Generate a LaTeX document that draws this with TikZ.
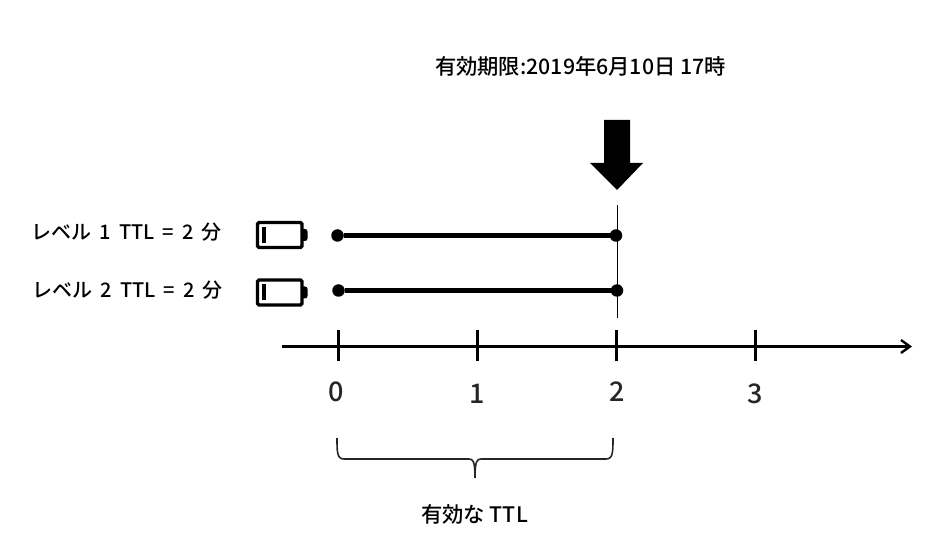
\documentclass[tikz,border=0pt]{standalone}
\usepackage{fontspec}
\setmainfont[UprightFont=* Medium]{Noto Sans CJK JP}
\usetikzlibrary{arrows.meta}
\tikzset{
  lbl/.style={inner sep=0pt,font=\fontsize{21.3}{23}\selectfont,text=black},
  lvl/.style={lbl,anchor=west,font=\fontsize{20}{22}\selectfont},
  num/.style={inner sep=0pt,font=\fontsize{27}{30}\selectfont,text=black!85},
  dot/.style={circle,fill=black,inner sep=0pt,minimum size=12.5pt},
  ttlline/.style={line width=4.2pt},
  axisline/.style={line width=3pt},
  tick/.style={line width=3pt},
  battbody/.style={draw=black,line width=3.4pt,rounded corners=1.5pt},
}
\begin{document}
\begin{tikzpicture}[x=1pt,y=-1pt]
\useasboundingbox (0,0) rectangle (943,537);
\node[lbl] (title) at (580.5,66) {有効期限:2019年6月10日 17時};
% big arrow
\fill[black] (604,120) -- (630,120) -- (630,163) -- (643,163) -- (617,190) -- (590,163) -- (604,163) -- cycle;
\coordinate (vtop) at (617,205);
\coordinate (vbot) at (617,318);
\draw[line width=0.8pt] (vtop) -- (vbot);
% levels
\node[lvl] (l1) at (31.5,232) {レベル\hspace{8pt}1\hspace{8pt}TTL\hspace{8pt}=\hspace{8pt}2\hspace{8pt}分};
\node[lvl] (l2) at (32.5,290.5) {レベル\hspace{8pt}2\hspace{8pt}TTL\hspace{8pt}=\hspace{8pt}2\hspace{8pt}分};
% batteries
\foreach \y/\n in {235/a,292.5/b}{
  \draw[battbody] (257.5,\y-12.5) rectangle (302,\y+12.5);
  \fill[black] (303,\y-6) -- (305,\y-6) arc (-90:0:2.5) -- (307.5,\y+3.5) arc (0:90:2.5) -- (303,\y+6) -- cycle;
  \fill[black] (261.5,\y-8) rectangle (266,\y+8);
}
% TTL lines
\node[dot] (a1) at (337.5,235.5) {};
\node[dot] (b1) at (616,235.5) {};
\node[dot] (a2) at (338.5,290.5) {};
\node[dot] (b2) at (617,290.5) {};
\draw[ttlline] (a1) -- (b1);
\draw[ttlline] (a2) -- (b2);
% axis
\coordinate (axs) at (282,346.5);
\coordinate (axe) at (912,346.5);
\draw[axisline,-{Straight Barb[length=9pt,width=13pt,line width=2.4pt]}] (axs) -- (axe);
\foreach \x/\n/\ty/\tx in {338.5/0/392/336,477.5/1/394/477.5,616.5/2/392/617,755.5/3/394/755}{
  \draw[tick] (\x,330) -- (\x,361);
  \node[num] (n\n) at (\tx,\ty) {\n};
}
% bracket
\coordinate (bl) at (337,438);
\coordinate (br) at (613,438);
\coordinate (bm) at (475,478);
\draw[line width=1.6pt,black!85] (bl) .. controls (337,452) and (337,459) .. (344,459) -- (469,459)
  .. controls (473,459) and (475,461) .. (bm)
  .. controls (475,461) and (477,459) .. (481,459) -- (606,459)
  .. controls (613,459) and (613,452) .. (br);
\node[lbl] (ttl) at (474.5,514) {有効な\hspace{5pt}TTL};
\end{tikzpicture}
\end{document}
